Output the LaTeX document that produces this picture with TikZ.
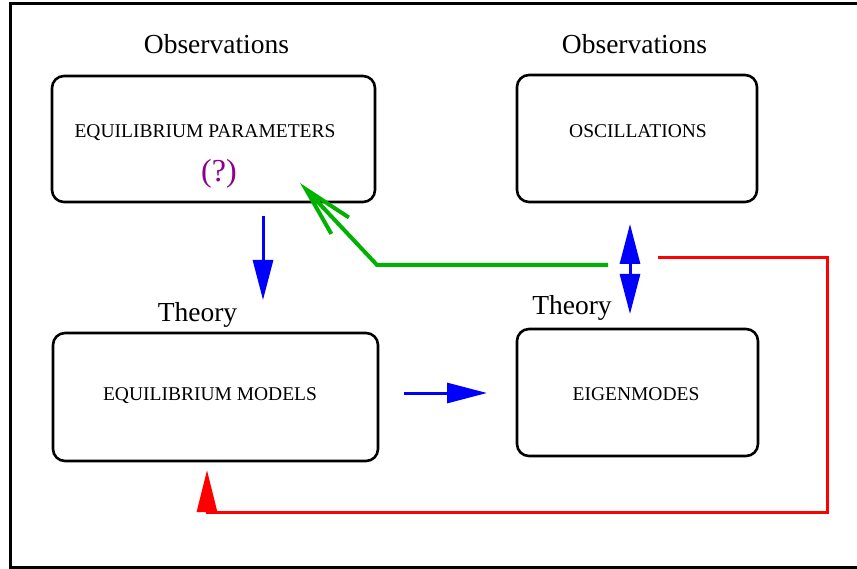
\documentclass[tikz,border=0pt]{standalone}
\usepackage{fontspec}
\setmainfont{Liberation Serif}
\usetikzlibrary{arrows.meta}
\definecolor{grn}{RGB}{0,178,0}
\definecolor{pur}{RGB}{140,0,140}
\begin{document}
\begin{tikzpicture}[x=1pt,y=-1pt,
  box/.style={draw, line width=2.6pt, rounded corners=12pt, inner sep=0pt},
  boxtext/.style={font=\fontsize{19.5}{22}\selectfont, inner sep=0pt, anchor=base},
  head/.style={font=\fontsize{27.5}{30}\selectfont, inner sep=0pt, anchor=base},
  bluearr/.style={blue, line width=3pt, -{Triangle[length=40pt,width=20pt]}},
]
\clip (0,0) rectangle (857,569);
\draw[line width=3pt] (10,4) rectangle (900,567);

% boxes
\node[box, minimum width=323pt, minimum height=126pt] (par) at (213.5,139) {};
\node[box, minimum width=240pt, minimum height=127pt] (osc) at (637,138.5) {};
\node[box, minimum width=325pt, minimum height=128pt] (mod) at (215.5,397) {};
\node[box, minimum width=241pt, minimum height=127pt] (eig) at (637.5,392.5) {};

% texts
\node[boxtext] (tpar) at (205,138) {EQUILIBRIUM PARAMETERS};
\node[boxtext, font=\fontsize{32}{34}\selectfont, text=pur] (q) at (219,182) {(?)};
\node[boxtext] (tosc) at (638,138) {OSCILLATIONS};
\node[boxtext] (tmod) at (210,400) {EQUILIBRIUM MODELS};
\node[boxtext] (teig) at (636,400) {EIGENMODES};

\node[head] (obs1) at (216.5,53.5) {Observations};
\node[head] (obs2) at (634.5,53.5) {Observations};
\node[head] (th1) at (197.5,322) {Theory};
\node[head] (th2) at (572,315) {Theory};

% connector end points
\coordinate (b1s) at (263,216);
\coordinate (b1e) at (263,300);
\coordinate (b2s) at (404,393);
\coordinate (b2e) at (487,393);
\coordinate (b3s) at (630,224);
\coordinate (b3e) at (630,314);
\coordinate (g1) at (608,265);
\coordinate (g2) at (377,265);
\coordinate (g3) at (300,183);
\coordinate (r1) at (658,258);
\coordinate (r2) at (827,258);
\coordinate (r3) at (827,512);
\coordinate (r4) at (207,512);
\coordinate (r5) at (207,470);

% arrows
\draw[bluearr] (b1s) -- (b1e);
\draw[bluearr] (b2s) -- (b2e);
\draw[blue, line width=3pt, {Triangle[length=40pt,width=20pt]}-{Triangle[length=40pt,width=20pt]}] (b3s) -- (b3e);
\draw[grn, line width=4pt, -{Straight Barb[length=50pt,width=24pt]}] (g1) -- (g2) -- (g3);
\draw[red, line width=3pt, -{Triangle[length=42pt,width=20pt]}] (r1) -- (r2) -- (r3) -- (r4) -- (r5);
\end{tikzpicture}
\end{document}
